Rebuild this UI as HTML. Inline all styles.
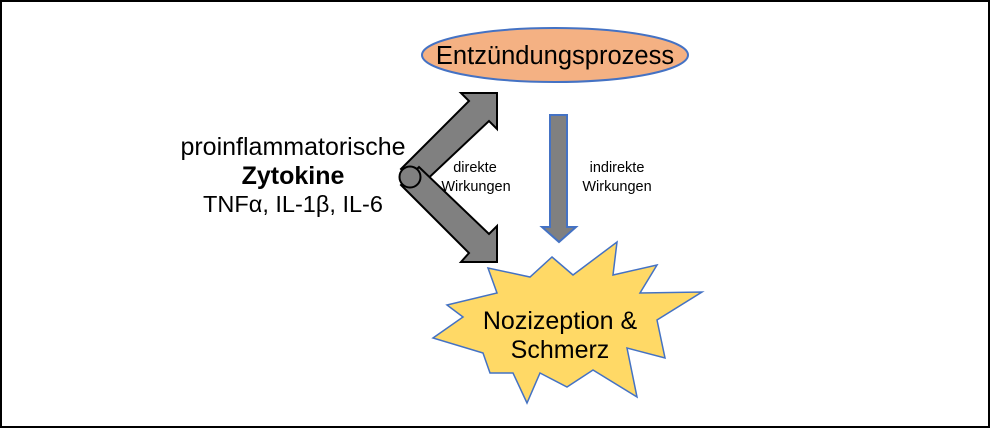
<!DOCTYPE html>
<html><head><meta charset="utf-8"><style>
html,body{margin:0;padding:0;background:#fff;}
svg{display:block;}
text{font-family:"Liberation Sans",sans-serif;fill:#000;}
</style></head><body>
<svg width="990" height="428" viewBox="0 0 990 428">
<rect x="1" y="1" width="988" height="426" fill="#fff" stroke="#000" stroke-width="2"/>
<ellipse cx="555" cy="55" rx="133" ry="27" fill="#f4b183" stroke="#4472c4" stroke-width="2"/>
<text x="555" y="64" font-size="25.5" text-anchor="middle">Entzündungsprozess</text>
<text x="293" y="155" font-size="25" text-anchor="middle">proinflammatorische</text>
<text x="293" y="184" font-size="25" font-weight="bold" text-anchor="middle">Zytokine</text>
<text x="293" y="212" font-size="23.5" text-anchor="middle">TNFα, IL-1β, IL-6</text>
<g fill="#808080" stroke="#000" stroke-width="2" stroke-linejoin="miter">
<polygon points="401,169 469,101 461,93 497,93 497,129 489,121 419,187"/>
<polygon points="401,185 469,253 461,262 497,262 497,226 489,234 419,167"/>
<circle cx="410" cy="177" r="10.5"/>
</g>
<text x="475" y="172" font-size="14.5" text-anchor="middle">direkte</text>
<text x="476" y="191" font-size="14.5" text-anchor="middle">Wirkungen</text>
<polygon points="550,115 567,115 567,227 576,227 559,242 542,227 550,227" fill="#808080" stroke="#4472c4" stroke-width="2"/>
<text x="617" y="172" font-size="14.5" text-anchor="middle">indirekte</text>
<text x="617" y="191" font-size="14.5" text-anchor="middle">Wirkungen</text>
<polygon points="552,257 573,275 617,242 613,275 657,265 640,293 702,292 657,320 665,358 627,348 637,397 593,370 567,387 540,373 527,403 513,373 490,373 483,353 433,338 463,317 447,305 497,293 488,268 530,277" fill="#ffd966" stroke="#4472c4" stroke-width="1.5"/>
<text x="560" y="329" font-size="25" text-anchor="middle">Nozizeption &amp;</text>
<text x="560" y="358" font-size="25" text-anchor="middle">Schmerz</text>
</svg>
</body></html>
